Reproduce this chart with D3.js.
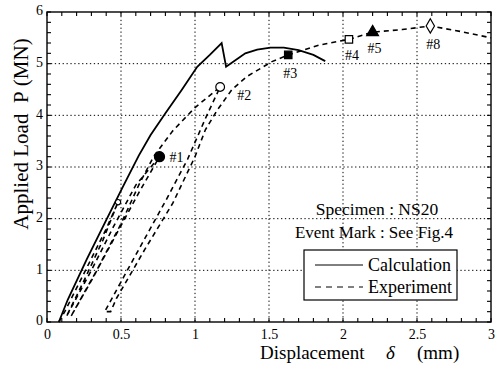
<!DOCTYPE html>
<html>
<head>
<meta charset="utf-8">
<script src="https://cdn.jsdelivr.net/npm/d3@7"></script>
<style>
  body { margin: 0; background: #fff; }
  svg { display: block; }
  svg text { font-family: "Liberation Serif", "DejaVu Serif", serif; fill: #000; }
</style>
</head>
<body>
<svg id="chart" width="495" height="368"></svg>
<script>
// axis ticks
const xTicks = [0, 0.5, 1, 1.5, 2, 2.5, 3]
const yTicks = [0, 1, 2, 3, 4, 5, 6]
const xTickLabels = ['0', '0.5', '1', '1.5', '2', '2.5', '3']
const yTickLabels = ['0', '1', '2', '3', '4', '5', '6']

// calculation (solid)
const calcX = [0.08, 0.14, 0.27, 0.40, 0.52, 0.62, 0.70, 0.80, 0.91, 1.015, 1.10, 1.18, 1.21, 1.28, 1.34, 1.42, 1.51, 1.60, 1.70, 1.80, 1.88]
const calcY = [0, 0.43, 1.22, 1.97, 2.66, 3.22, 3.62, 4.04, 4.49, 4.94, 5.17, 5.40, 4.94, 5.08, 5.20, 5.27, 5.31, 5.31, 5.26, 5.17, 5.05]

// experiment (dashed), with unloading / reloading loops
const expX = [0.08, 0.12, 0.26, 0.40, 0.48,
  0.38, 0.25, 0.13,
  0.30, 0.45, 0.60, 0.76,
  0.62, 0.45, 0.30, 0.16,
  0.336, 0.50, 0.62, 0.72, 0.85, 1.00, 1.17,
  1.08, 0.95, 0.81, 0.60, 0.39,
  0.43, 0.47, 0.66, 0.85, 1.00, 1.07, 1.15, 1.25, 1.35, 1.52, 1.63, 1.75, 1.84, 2.04, 2.20, 2.40, 2.59, 2.80, 3.00]
const expY = [0, 0.2, 1.0, 1.8, 2.32,
  1.6, 0.8, 0.1,
  1.0, 1.85, 2.65, 3.2,
  2.5, 1.6, 0.8, 0.1,
  1.0, 1.9, 2.65, 3.2, 3.7, 4.15, 4.55,
  4.0, 3.15, 2.39, 1.3, 0.2,
  0.2, 0.46, 1.4, 2.3, 3.2, 3.72, 4.1, 4.5, 4.75, 5.04, 5.17, 5.28, 5.36, 5.47, 5.61, 5.66, 5.73, 5.62, 5.50]

// event marks
const markLabels = ['', '#1', '#2', '#3', '#4', '#5', '#8']
const markX = [0.48, 0.76, 1.17, 1.63, 2.04, 2.20, 2.59]
const markY = [2.32, 3.2, 4.55, 5.17, 5.47, 5.61, 5.73]
const markShapes = ['circle', 'circle', 'circle', 'square', 'square', 'triangle', 'diamond']
const markFilled = [false, true, false, true, false, true, false]

const legendLabels = ['Calculation', 'Experiment']

// layout
const margin = { top: 12, right: 4, bottom: 46, left: 47 }
const width = 495 - margin.left - margin.right
const height = 368 - margin.top - margin.bottom

const svg = d3.select('#chart')
const g = svg.append('g').attr('transform', `translate(${margin.left},${margin.top})`)

const x = d3.scaleLinear().domain([0, 3]).range([0, width])
const y = d3.scaleLinear().domain([0, 6]).range([height, 0])

// dotted grid
g.append('g').selectAll('line').data(xTicks.slice(1, -1)).join('line')
  .attr('x1', d => x(d)).attr('x2', d => x(d)).attr('y1', 0).attr('y2', height)
  .attr('stroke', '#000').attr('stroke-width', 1).attr('stroke-dasharray', '1.3,2.6')
g.append('g').selectAll('line').data(yTicks.slice(1, -1)).join('line')
  .attr('y1', d => y(d)).attr('y2', d => y(d)).attr('x1', 0).attr('x2', width)
  .attr('stroke', '#000').attr('stroke-width', 1).attr('stroke-dasharray', '1.3,2.6')

// inward ticks on all sides
const xMinor = d3.range(0, 3.0001, 0.1)
const yMinor = d3.range(0, 6.0001, 0.2)
const tickG = g.append('g').attr('stroke', '#000').attr('stroke-width', 1.1)
tickG.selectAll('.tb').data(xMinor).join('line')
  .attr('x1', d => x(d)).attr('x2', d => x(d)).attr('y1', height).attr('y2', height - 4)
tickG.selectAll('.tt').data(xMinor).join('line')
  .attr('x1', d => x(d)).attr('x2', d => x(d)).attr('y1', 0).attr('y2', 4)
tickG.selectAll('.tl').data(yMinor).join('line')
  .attr('y1', d => y(d)).attr('y2', d => y(d)).attr('x1', 0).attr('x2', 4)
tickG.selectAll('.tr').data(yMinor).join('line')
  .attr('y1', d => y(d)).attr('y2', d => y(d)).attr('x1', width).attr('x2', width - 4)

// tick labels via d3 axes
const xAxis = g.append('g').attr('transform', `translate(0,${height})`)
  .call(d3.axisBottom(x).tickValues(xTicks).tickFormat((d, i) => xTickLabels[i]).tickSize(0).tickPadding(7))
const yAxis = g.append('g')
  .call(d3.axisLeft(y).tickValues(yTicks).tickFormat((d, i) => yTickLabels[i]).tickSize(0).tickPadding(4))
;[xAxis, yAxis].forEach(a => {
  a.attr('font-family', null)
  a.select('.domain').remove()
  a.selectAll('text').style('font-family', '"Liberation Serif", serif').attr('font-size', 14).attr('fill', '#000')
})
yAxis.selectAll('text').attr('dy', '0.2em')

// frame
g.append('rect').attr('width', width).attr('height', height)
  .attr('fill', 'none').attr('stroke', '#000').attr('stroke-width', 1.4)

// curves
const line = d3.line().x(d => x(d[0])).y(d => y(d[1]))
g.append('path').datum(calcX.map((v, i) => [v, calcY[i]]))
  .attr('d', line).attr('fill', 'none').attr('stroke', '#000').attr('stroke-width', 1.8)
g.append('path').datum(expX.map((v, i) => [v, expY[i]]))
  .attr('d', line).attr('fill', 'none').attr('stroke', '#000').attr('stroke-width', 1.6)
  .attr('stroke-dasharray', '5,4')

// event marks
const symbolType = { circle: d3.symbolCircle, square: d3.symbolSquare, triangle: d3.symbolTriangle, diamond: d3.symbolDiamond }
const symbolSize = { circle: 80, square: 55, triangle: 60, diamond: 60 }
const labelOffset = [[0, 0], [10, 5], [17, 13], [-5, 23], [-4, 21], [-5, 21], [-4, 23]]
markX.forEach((mx, i) => {
  const sz = i === 0 ? 22 : (i === 2 ? 60 : symbolSize[markShapes[i]])
  g.append('path')
    .attr('transform', `translate(${x(mx)},${y(markY[i])})`)
    .attr('d', d3.symbol().type(symbolType[markShapes[i]]).size(sz)())
    .attr('fill', markFilled[i] ? '#000' : '#fff')
    .attr('stroke', '#000').attr('stroke-width', 1.2)
  if (markLabels[i]) {
    g.append('text')
      .attr('x', x(mx) + labelOffset[i][0]).attr('y', y(markY[i]) + labelOffset[i][1])
      .attr('font-size', 14).text(markLabels[i])
  }
})

// annotations
svg.append('text').attr('x', 377).attr('y', 215).attr('text-anchor', 'middle')
  .attr('font-size', 17.5).text('Specimen : NS20')
svg.append('text').attr('x', 374).attr('y', 238).attr('text-anchor', 'middle')
  .attr('font-size', 17).text('Event Mark : See Fig.4')

// legend
const lg = svg.append('g')
lg.append('rect').attr('x', 304).attr('y', 250).attr('width', 153).attr('height', 50)
  .attr('fill', '#fff').attr('stroke', '#000').attr('stroke-width', 1.2)
legendLabels.forEach((lab, i) => {
  const ly = 265 + i * 22
  lg.append('line').attr('x1', 315).attr('x2', 363).attr('y1', ly).attr('y2', ly)
    .attr('stroke', '#000').attr('stroke-width', 1)
    .attr('stroke-dasharray', i === 1 ? '6,5' : null)
  lg.append('text').attr('x', 368).attr('y', ly + 6).attr('font-size', 18).text(lab)
})

// axis titles
const xt = svg.append('text').attr('y', 359).attr('font-size', 19)
xt.append('tspan').attr('x', 260).text('Displacement')
xt.append('tspan').attr('x', 386).attr('font-style', 'italic').text('δ')
xt.append('tspan').attr('x', 417).text('(mm)')

svg.append('text').attr('transform', 'translate(28,134) rotate(-90)')
  .attr('text-anchor', 'middle').attr('font-size', 21)
  .text('Applied Load\u00a0\u00a0P\u00a0(MN)')
</script>
</body>
</html>
